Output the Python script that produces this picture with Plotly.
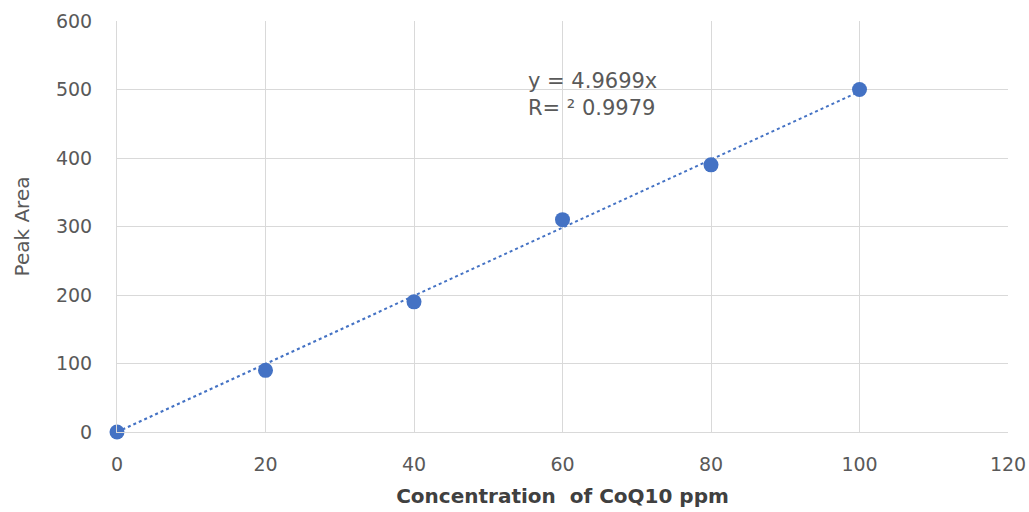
import plotly.graph_objects as go

conc = [0, 20, 40, 60, 80, 100]
peak_area = [0, 90, 190, 310, 390, 500]
slope = 4.9699
r2 = 0.9979
trend_x = [0, 100]
trend_y = [slope * v for v in trend_x]

FONT = "DejaVu Sans, Verdana, sans-serif"

fig = go.Figure()
fig.add_trace(go.Scatter(x=trend_x, y=trend_y, mode="lines",
                         line=dict(color="#4472C4", width=2, dash="dot"),
                         hoverinfo="skip", showlegend=False, cliponaxis=False))
fig.add_trace(go.Scatter(x=conc, y=peak_area, mode="markers",
                         marker=dict(color="#4472C4", size=15),
                         showlegend=False, cliponaxis=False))

fig.add_annotation(x=64, y=492, xref="x", yref="y",
                   text=f"y = {slope}x<br>R= ² {r2}", showarrow=False,
                   font=dict(family=FONT, size=21, color="#595959"),
                   align="left")

axis_font = dict(family=FONT, size=19, color="#595959")
fig.update_xaxes(range=[0, 120], dtick=20, showgrid=True, gridcolor="#d9d9d9",
                 gridwidth=1, zeroline=False, showline=True, linecolor="#d9d9d9",
                 tickfont=axis_font, ticks="", ticklabelstandoff=15, automargin=False,
                 title=dict(text="<b>Concentration  of CoQ10 ppm</b>",
                            font=dict(family=FONT, size=20, color="#404040"),
                            standoff=15))
fig.update_yaxes(range=[0, 600], dtick=100, showgrid=True, gridcolor="#d9d9d9",
                 gridwidth=1, zeroline=False, showline=True, linecolor="#d9d9d9",
                 tickfont=axis_font, ticks="", ticklabelstandoff=20, automargin=False,
                 title=dict(text="Peak Area",
                            font=dict(family=FONT, size=20, color="#595959"),
                            standoff=20))
fig.update_layout(width=1029, height=512, margin=dict(l=117, r=21, t=21, b=80),
                  plot_bgcolor="white", paper_bgcolor="white")
fig.write_html("out.html", config={"displayModeBar": False},
               post_script="document.body.style.margin='0';document.body.style.overflow='hidden';")
